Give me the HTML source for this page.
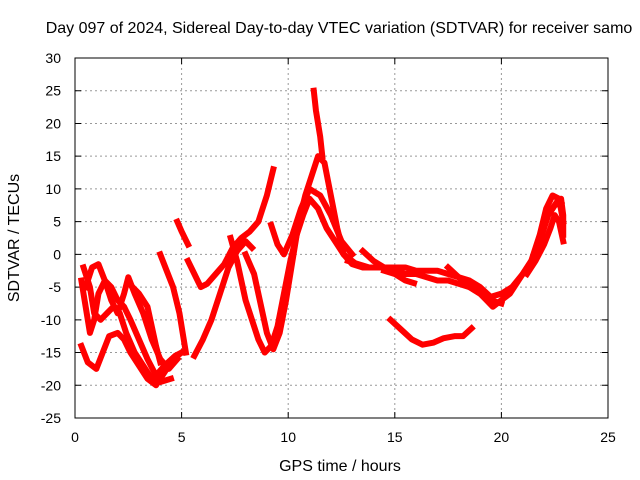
<!DOCTYPE html>
<html><head><meta charset="utf-8"><style>
body{margin:0;background:#fff}
svg{display:block;font-family:"Liberation Sans",sans-serif}
</style></head><body>
<svg id="c" width="640" height="480">
<text x="339" y="33" font-size="16" text-anchor="middle">Day 097 of 2024, Sidereal Day-to-day VTEC variation (SDTVAR) for receiver samo</text>
<text transform="translate(19,238) rotate(-90)" font-size="16" text-anchor="middle">SDTVAR / TECUs</text>
<text x="340" y="471" font-size="16" text-anchor="middle">GPS time / hours</text>
<g id="grid"></g><g id="marks"></g>
<rect x="75" y="58" width="533" height="360" fill="none" stroke="#000"/>
</svg>
<script>
const xTicks=[0,5,10,15,20,25];
const yTicks=[-25,-20,-15,-10,-5,0,5,10,15,20,25,30];
const s1=[[0.3,-14],[0.6,-16.5],[1.0,-17.5],[1.3,-15],[1.6,-12.5],[2.0,-12],[2.3,-13],[2.6,-15],[3.0,-17],[3.4,-19],[3.8,-20],[4.2,-18],[4.6,-16],[5.0,-15]];
const s2=[[0.4,-2],[0.7,-5],[0.9,-9],[1.2,-10],[1.5,-9],[1.8,-8],[2.1,-9],[2.4,-12],[2.8,-15],[3.2,-17],[3.6,-19],[4.0,-19.5],[4.5,-19]];
const s3=[[0.3,-4],[0.5,-8],[0.7,-12],[0.9,-10],[1.1,-6],[1.4,-4],[1.7,-5],[2.0,-7],[2.3,-8],[2.6,-10],[3.0,-13],[3.4,-16],[3.8,-18.5],[4.2,-17],[4.7,-15.5],[5.0,-15]];
const s4=[[0.5,-5],[0.8,-2],[1.1,-1.5],[1.4,-4],[1.7,-7],[2.0,-9],[2.3,-6],[2.5,-3.5],[2.8,-6],[3.2,-9],[3.6,-13],[4.0,-16],[4.4,-17.5],[4.8,-16]];
const s5=[[2.7,-5],[3.0,-6],[3.4,-8],[3.6,-11],[3.8,-14],[4.0,-16.5]];
const s6=[[4.0,0],[4.3,-2.5],[4.6,-5],[4.9,-9],[5.1,-13],[5.2,-15]];
const s7=[[4.8,5],[5.0,3.5],[5.3,1.5]];
const s8=[[5.3,-1],[5.6,-3],[5.9,-5],[6.2,-4.5],[6.6,-3],[7.0,-1.5],[7.4,1],[7.8,2.5],[8.2,3.5],[8.6,5],[9.0,9],[9.3,13]];
const s9=[[5.6,-15.5],[6.0,-13],[6.4,-10],[6.8,-6],[7.2,-2],[7.6,0.5],[8.0,2],[8.3,1]];
const s10=[[7.3,2.5],[7.6,-1],[7.8,-4],[8.0,-7],[8.3,-10],[8.6,-13],[8.9,-15],[9.2,-14],[9.5,-11],[9.8,-6],[10.1,-1],[10.4,3],[10.7,6],[11.0,8.5],[11.4,7],[11.8,4],[12.2,2],[12.6,0],[13.0,-1]];
const s11=[[8.0,0],[8.4,-3],[8.8,-9],[9.0,-12],[9.3,-14.5],[9.6,-12],[9.9,-7],[10.2,-1],[10.5,5],[10.8,9],[11.1,12],[11.4,15],[11.7,14],[12.0,9],[12.3,4],[12.6,0],[13.0,-1.5],[13.5,-2],[14,-2]];
const s12=[[9.2,4.5],[9.5,1.5],[9.8,0],[10.2,3],[10.6,7],[11.0,10],[11.5,9],[12.0,6],[12.5,2],[13,0]];
const s13=[[11.2,25],[11.3,22],[11.4,20],[11.5,18],[11.6,15]];
const s14=[[12.8,-1],[13.3,-1.5],[13.8,-2],[14.5,-2],[15.0,-2.5],[15.5,-3],[16.0,-3],[16.5,-3.5],[17.0,-4],[17.5,-4],[18.0,-4.5],[18.5,-5],[19.0,-6],[19.3,-7],[19.6,-8],[20.0,-7],[20.4,-6],[20.8,-4],[21.2,-2],[21.6,0],[21.9,3],[22.2,6],[22.5,7.5],[22.8,8]];
const s15=[[13.5,0.5],[14,-1],[14.5,-2],[15,-2],[15.5,-2],[16,-2.5],[16.5,-2.5],[17,-2.5],[17.5,-3],[18,-3.5],[18.5,-4],[19,-5],[19.5,-6.5],[20,-6],[20.5,-5],[21,-3],[21.4,-1],[21.8,3],[22.1,7],[22.4,9],[22.7,8.5],[22.9,5]];
const s16=[[14.5,-2.5],[15,-3],[15.5,-4],[15.9,-4.4]];
const s17=[[17.5,-2],[18,-3.5],[18.5,-5],[19,-6],[19.5,-7],[20,-7.5]];
const s18=[[14.8,-10],[15.3,-11.5],[15.8,-13],[16.3,-13.8],[16.8,-13.5],[17.3,-12.8],[17.8,-12.5],[18.2,-12.5],[18.6,-11.3]];
const s19=[[21.2,-3],[21.6,-1],[22,1.5],[22.3,4],[22.5,6],[22.7,5],[22.9,2]];
const s20=[[22.4,7],[22.6,8],[22.8,8.5],[22.9,6],[22.9,3]];
const series=[s1,s2,s3,s4,s5,s6,s7,s8,s9,s10,s11,s12,s13,s14,s15,s16,s17,s18,s19,s20];
const X=h=>75+h*533/25, Y=v=>418-(v+25)*360/55;
const NS="http://www.w3.org/2000/svg";
const svg=document.getElementById('c'),grid=document.getElementById('grid'),marks=document.getElementById('marks');
function mk(t,a,p){const e=document.createElementNS(NS,t);for(const k in a)e.setAttribute(k,a[k]);p.appendChild(e);return e;}
xTicks.forEach(t=>{
  if(t>0&&t<25){const g=mk('line',{x1:X(t),x2:X(t),y1:58,y2:418,stroke:'#999','stroke-dasharray':'2,3'},grid);
  
  }
  const tk=mk('path',{d:`M${X(t)},418v-6M${X(t)},58v6`,stroke:'#000'},grid);
  
  
  const l=mk('text',{x:X(t),y:442,'font-size':14,'text-anchor':'middle'},svg);l.textContent=t;
  
  
});
yTicks.forEach(t=>{
  if(t>-25&&t<30){const g=mk('line',{x1:75,x2:608,y1:Y(t),y2:Y(t),stroke:'#999','stroke-dasharray':'2,3'},grid);
  
  }
  const tk=mk('path',{d:`M75,${Y(t)}h6M608,${Y(t)}h-6`,stroke:'#000'},grid);
  
  
  const l=mk('text',{x:61,y:Y(t)+5,'font-size':14,'text-anchor':'end'},svg);l.textContent=t;
  
  
});
series.forEach((s,i)=>{
  const p=mk('polyline',{points:s.map(d=>X(d[0])+','+Y(d[1])).join(' '),fill:'none',stroke:'#f00','stroke-width':6,'stroke-linejoin':'round','stroke-linecap':'square'},marks);
  
  
});
</script>
</body></html>
